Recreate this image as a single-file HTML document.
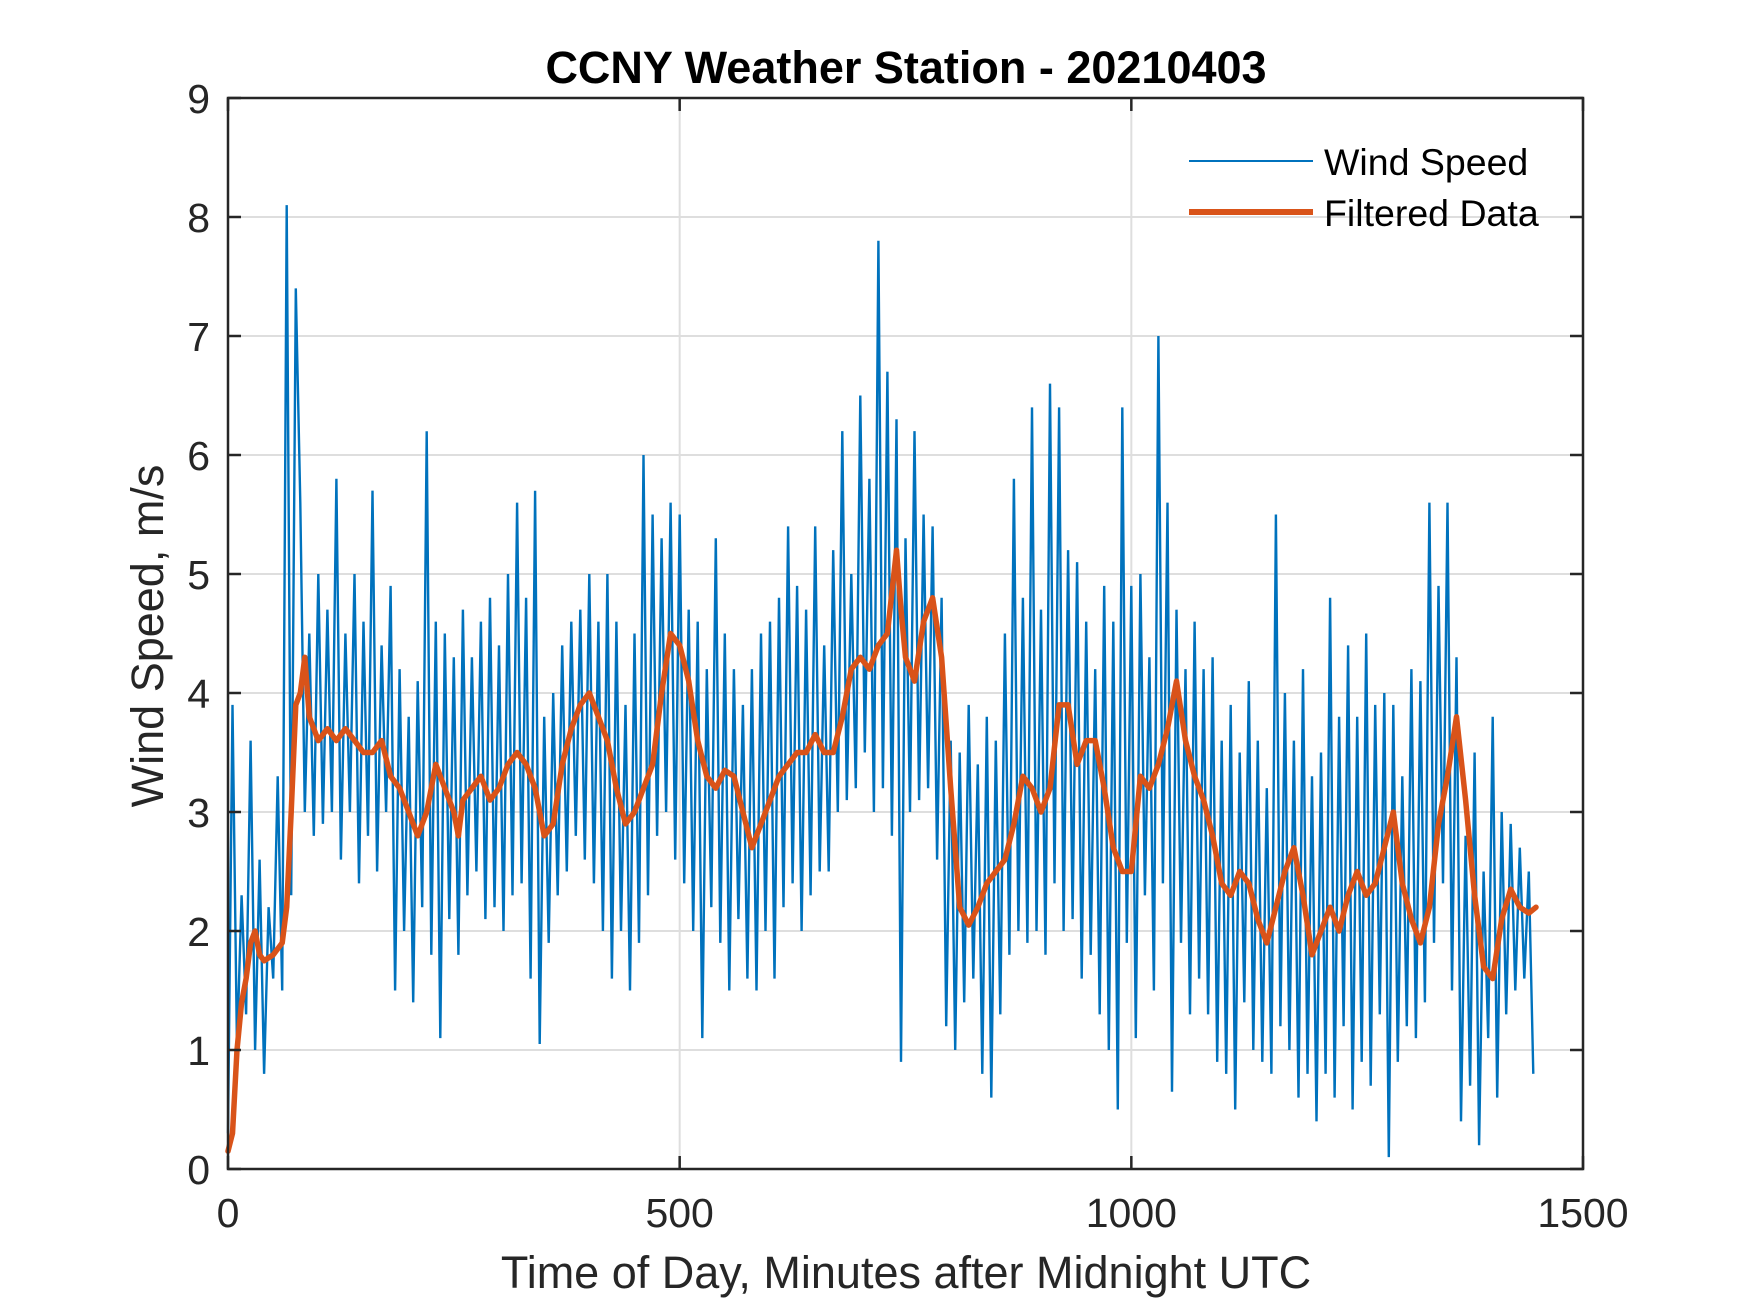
<!DOCTYPE html>
<html><head><meta charset="utf-8"><style>
html,body{margin:0;padding:0;background:#fff;}
svg{display:block;font-family:"Liberation Sans",Arial,sans-serif;}
</style></head><body>
<svg id="chart" width="1750" height="1313" viewBox="0 0 1750 1313" xmlns="http://www.w3.org/2000/svg">
<rect width="1750" height="1313" fill="#fff"/>
<g id="grid"></g>
<g id="series"></g>
<rect x="228" y="98" width="1355" height="1071" fill="none" stroke="#262626" stroke-width="2.5"/>
<g id="ticks"></g>
<text x="906" y="83" text-anchor="middle" font-size="45" font-weight="bold" fill="#000">CCNY Weather Station - 20210403</text>
<text x="906" y="1288" text-anchor="middle" font-size="45" fill="#262626">Time of Day, Minutes after Midnight UTC</text>
<text transform="translate(163,636) rotate(-90)" text-anchor="middle" font-size="45" fill="#262626">Wind Speed, m/s</text>
<g>
<line x1="1189" y1="161" x2="1313" y2="161" stroke="#0072BD" stroke-width="2"/>
<text x="1324" y="175" font-size="37.5" fill="#000">Wind Speed</text>
<line x1="1189" y1="212" x2="1313" y2="212" stroke="#D95319" stroke-width="6"/>
<text x="1324" y="226" font-size="37.5" fill="#000">Filtered Data</text>
</g>
</svg>
<script>
const xTicks=[0,500,1000,1500];
const yTicks=[0,1,2,3,4,5,6,7,8,9];
const rawStep=5;
const rawValues=[
0.3,3.9,1.0,2.3,1.3,3.6,1.0,2.6,0.8,2.2,1.6,3.3,
1.5,8.1,2.3,7.4,5.6,3.0,4.5,2.8,5.0,2.9,4.7,3.0,
5.8,2.6,4.5,3.0,5.0,2.4,4.6,2.8,5.7,2.5,4.4,3.0,
4.9,1.5,4.2,2.0,3.8,1.4,4.1,2.2,6.2,1.8,4.6,1.1,
4.5,2.1,4.3,1.8,4.7,2.3,4.3,2.5,4.6,2.1,4.8,2.2,
4.4,2.0,5.0,2.3,5.6,2.4,4.8,1.6,5.7,1.05,3.8,1.9,
4.0,2.3,4.4,2.5,4.6,2.8,4.7,2.6,5.0,2.4,4.6,2.0,
5.0,1.6,4.6,2.0,3.9,1.5,4.5,1.9,6.0,2.3,5.5,2.8,
5.3,3.0,5.6,2.6,5.5,2.4,4.7,2.0,4.6,1.1,4.2,2.2,
5.3,1.9,4.5,1.5,4.2,2.1,3.9,1.6,4.2,1.5,4.5,2.0,
4.6,1.6,4.8,2.2,5.4,2.4,4.9,2.0,4.7,2.3,5.4,2.5,
4.4,2.5,5.2,3.0,6.2,3.1,5.0,3.2,6.5,3.5,5.8,3.0,
7.8,3.2,6.7,2.8,6.3,0.9,5.3,3.0,6.2,3.1,5.5,3.2,
5.4,2.6,4.8,1.2,3.6,1.0,3.5,1.4,3.9,1.6,3.4,0.8,
3.8,0.6,3.6,1.3,4.5,1.8,5.8,2.0,4.8,1.9,6.4,2.0,
4.7,1.8,6.6,2.4,6.4,2.0,5.2,2.1,5.1,1.6,4.6,1.8,
4.2,1.3,4.9,1.0,4.6,0.5,6.4,1.9,4.9,1.1,5.0,2.3,
4.3,1.5,7.0,2.4,5.6,0.65,4.7,1.9,4.2,1.3,4.6,1.6,
4.2,1.3,4.3,0.9,3.6,0.8,3.9,0.5,3.5,1.4,4.1,1.0,
3.6,0.9,3.2,0.8,5.5,1.2,4.0,1.0,3.6,0.6,4.2,0.8,
3.3,0.4,3.5,0.8,4.8,0.6,3.8,1.2,4.4,0.5,3.8,0.9,
4.5,0.7,3.9,1.3,4.0,0.1,3.9,0.9,3.3,1.2,4.2,1.1,
4.1,1.4,5.6,1.9,4.9,2.4,5.6,1.5,4.3,0.4,2.8,0.7,
3.5,0.2,2.5,1.1,3.8,0.6,3.0,1.3,2.9,1.5,2.7,1.6,
2.5,0.8];
const filtTimes=[0,5,10,15,20,25,30,35,40,50,60,65,70,75,80,85,90,100,110,120,130,140,150,160,170,180,190,200,210,220,230,240,250,255,260,270,280,290,300,310,320,330,340,350,360,370,380,390,400,410,420,430,440,450,460,470,480,490,500,510,520,530,540,550,560,570,580,590,600,610,620,630,640,650,660,670,680,690,700,710,720,730,740,745,750,760,770,780,790,800,810,820,830,840,850,860,870,880,890,900,910,920,930,940,950,960,970,980,990,1000,1010,1020,1030,1040,1050,1060,1070,1080,1090,1100,1110,1120,1130,1140,1150,1160,1170,1180,1190,1200,1210,1220,1230,1240,1250,1260,1270,1280,1290,1300,1310,1320,1330,1340,1350,1360,1370,1380,1390,1400,1410,1420,1430,1440,1448];
const filtValues=[0.15,0.3,1.0,1.4,1.6,1.9,2.0,1.8,1.75,1.8,1.9,2.2,3.0,3.9,4.0,4.3,3.8,3.6,3.7,3.6,3.7,3.6,3.5,3.5,3.6,3.3,3.2,3.0,2.8,3.0,3.4,3.2,3.0,2.8,3.1,3.2,3.3,3.1,3.2,3.4,3.5,3.4,3.2,2.8,2.9,3.4,3.7,3.9,4.0,3.8,3.6,3.2,2.9,3.0,3.2,3.4,4.0,4.5,4.4,4.1,3.6,3.3,3.2,3.35,3.3,3.0,2.7,2.9,3.1,3.3,3.4,3.5,3.5,3.65,3.5,3.5,3.8,4.2,4.3,4.2,4.4,4.5,5.2,4.7,4.3,4.1,4.6,4.8,4.3,3.2,2.2,2.05,2.2,2.4,2.5,2.6,2.9,3.3,3.2,3.0,3.2,3.9,3.9,3.4,3.6,3.6,3.2,2.7,2.5,2.5,3.3,3.2,3.4,3.7,4.1,3.6,3.3,3.1,2.8,2.4,2.3,2.5,2.4,2.1,1.9,2.2,2.5,2.7,2.3,1.8,2.0,2.2,2.0,2.3,2.5,2.3,2.4,2.7,3.0,2.4,2.1,1.9,2.2,2.9,3.3,3.8,3.1,2.3,1.7,1.6,2.1,2.35,2.2,2.15,2.2];

const NS='http://www.w3.org/2000/svg';
const L=228,R=1583,T=98,B=1169;
function sx(v){return L+(v-0)/(1500-0)*(R-L);}
function sy(v){return B-(v-0)/(9-0)*(B-T);}
function mk(tag,attrs,parent){const e=document.createElementNS(NS,tag);for(const k in attrs)e.setAttribute(k,attrs[k]);parent.appendChild(e);return e;}
const grid=document.getElementById('grid'),ticks=document.getElementById('ticks'),series=document.getElementById('series');
xTicks.forEach(v=>{
  const x=sx(v);
  if(v>0&&v<1500){const g=mk('line',{x1:x,y1:T,x2:x,y2:B,stroke:'#dedede','stroke-width':2},grid);
  
  }
  const t1=mk('line',{x1:x,y1:B,x2:x,y2:B-13,stroke:'#262626','stroke-width':2.5},ticks);
  
  
  const t2=mk('line',{x1:x,y1:T,x2:x,y2:T+13,stroke:'#262626','stroke-width':2.5},ticks);
  
  
  const lb=mk('text',{x:x,y:1227,'text-anchor':'middle','font-size':41,fill:'#262626'},ticks);
  lb.textContent=v;
  
  
});
yTicks.forEach(v=>{
  const y=sy(v);
  if(v>0&&v<9){const g=mk('line',{x1:L,y1:y,x2:R,y2:y,stroke:'#dedede','stroke-width':2},grid);
  
  }
  const t1=mk('line',{x1:L,y1:y,x2:L+13,y2:y,stroke:'#262626','stroke-width':2.5},ticks);
  
  
  const t2=mk('line',{x1:R,y1:y,x2:R-13,y2:y,stroke:'#262626','stroke-width':2.5},ticks);
  
  
  const lb=mk('text',{x:210,y:y+15,'text-anchor':'end','font-size':41,fill:'#262626'},ticks);
  lb.textContent=v;
  
  
});
const rawPts=rawValues.map((v,i)=>sx(i*rawStep).toFixed(1)+','+sy(v).toFixed(1)).join(' ');
const raw=mk('polyline',{points:rawPts,fill:'none',stroke:'#0072BD','stroke-width':2.4,'stroke-linejoin':'miter'},series);


const fPts=filtValues.map((v,i)=>sx(filtTimes[i]).toFixed(1)+','+sy(v).toFixed(1)).join(' ');
const fl=mk('polyline',{points:fPts,fill:'none',stroke:'#D95319','stroke-width':5.5,'stroke-linejoin':'round','stroke-linecap':'round'},series);


</script>
</body></html>
